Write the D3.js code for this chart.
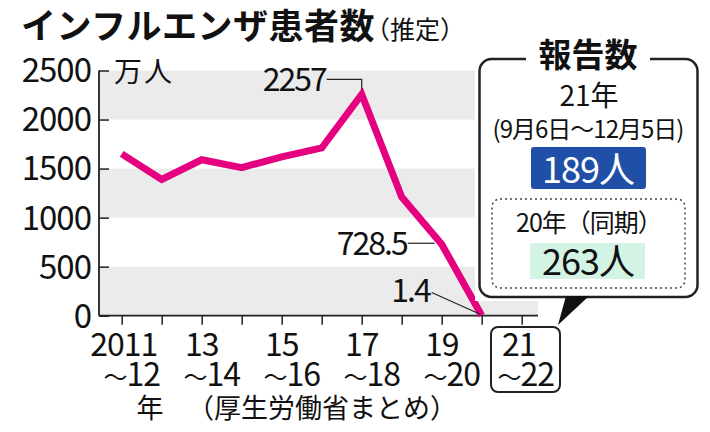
<!DOCTYPE html>
<html>
<head>
<meta charset="utf-8">
<script src="https://cdn.jsdelivr.net/npm/d3@7"></script>
<style>
  body { margin: 0; background: #fff; }
  text { font-family: "Noto Sans CJK JP", "Noto Sans", sans-serif; fill: #111; }
</style>
</head>
<body>
<div id="chart"></div>
<script>
"use strict";

// data (万人)
var seasons = ["2011-12","2012-13","2013-14","2014-15","2015-16","2016-17","2017-18","2018-19","2019-20","2020-21","2021-22"];
var patients = [1650, 1390, 1590, 1510, 1620, 1710, 2257, 1210, 728.5, 1.4];
var tickTop = ["2011","","13","","15","","17","","19","","21"];
var tickBottom = ["12","","14","","16","","18","","20","","22"];
var yTicks = [0, 500, 1000, 1500, 2000, 2500];
var callouts = [{i: 6, text: "2257"}, {i: 8, text: "728.5"}, {i: 9, text: "1.4"}];
var reportNow = 189, reportPrev = 263;

var W = 710, H = 432;
var svg = d3.select("#chart").append("svg")
    .attr("width", W).attr("height", H);

var x = d3.scalePoint().domain(seasons).range([121.7, 521.7]),
    y = d3.scaleLinear().domain([0, 2500]).range([315.7, 70.5]);
var left = 99, right = 538;

// gray bands
var bands = [[0, 500], [1000, 1500], [2000, 2500]];
svg.selectAll(".band").data(bands).enter().append("rect")
    .attr("class", "band")
    .attr("x", left).attr("width", right - left)
    .attr("y", function (d) { return y(d[1]); })
    .attr("height", function (d) { return y(d[0]) - y(d[1]); })
    .attr("fill", "#ebebeb");

// y axis
var yAxis = svg.append("g")
    .attr("transform", "translate(" + left + ",0)")
    .call(d3.axisRight(y).tickValues(yTicks).tickSize(10).tickFormat(""));
yAxis.select(".domain").remove();
yAxis.selectAll("line").attr("stroke", "#222").attr("stroke-width", 1.5);
svg.append("line").attr("x1", left).attr("x2", left)
    .attr("y1", y(2500)).attr("y2", y(0)).attr("stroke", "#222").attr("stroke-width", 1.8);

svg.selectAll(".ylab").data(yTicks).enter().append("text")
    .attr("x", 91).attr("y", function (d) { return y(d); })
    .attr("dy", "0.36em").attr("text-anchor", "end")
    .style("font-size", "33px").style("letter-spacing", "-1px")
    .text(function (d) { return d; });

svg.append("text").attr("x", 114).attr("y", 82)
    .style("font-size", "28px").style("letter-spacing", "2px").text("万人");

// x axis
var xAxis = svg.append("g")
    .attr("transform", "translate(0," + y(0) + ")")
    .call(d3.axisBottom(x).tickSize(9).tickFormat(""));
xAxis.select(".domain").remove();
xAxis.selectAll("line").attr("stroke", "#222").attr("stroke-width", 1.5);
svg.append("line").attr("x1", left).attr("x2", right)
    .attr("y1", y(0)).attr("y2", y(0)).attr("stroke", "#222").attr("stroke-width", 1.8);

var xl = svg.selectAll(".xlab").data(seasons.slice(0, 10)).enter().append("g");
xl.append("text")
    .attr("x", function (d, i) { return x(d) + (i === 0 ? 2 : 0); })
    .attr("y", 356).attr("text-anchor", "middle")
    .style("font-size", "32px").style("letter-spacing", "-1px")
    .text(function (d, i) { return tickTop[i]; });
var bot = xl.filter(function (d, i) { return tickBottom[i] !== ""; })
    .append("text")
    .attr("x", function (d) { return x(d) + 10; })
    .attr("y", 386).attr("text-anchor", "middle")
    .style("font-size", "32px").style("letter-spacing", "-1px");
bot.append("tspan").style("font-size", "24px").text("～");
bot.append("tspan").text(function (d) { return tickBottom[seasons.indexOf(d)]; });

svg.append("text").attr("x", 150).attr("y", 418).attr("text-anchor", "middle")
    .style("font-size", "27px").text("年");
svg.append("text").attr("x", 322).attr("y", 418).attr("text-anchor", "middle")
    .style("font-size", "27px").text("（厚生労働省まとめ）");

// line
var line = d3.line()
    .x(function (d, i) { return x(seasons[i]); })
    .y(function (d) { return y(d); });
svg.append("path").datum(patients)
    .attr("d", line)
    .attr("fill", "none")
    .attr("stroke", "#e5007f")
    .attr("stroke-width", 7)
    .attr("stroke-linejoin", "miter");

// callouts
function cx(c) { return x(seasons[c.i]); }
function cy(c) { return y(patients[c.i]); }
var c0 = callouts[0], c1 = callouts[1], c2 = callouts[2];
svg.append("path")
    .attr("d", "M" + (cx(c0) - 35) + "," + (cy(c0) - 15) + "H" + cx(c0) + "V" + (cy(c0) - 5))
    .attr("fill", "none").attr("stroke", "#222").attr("stroke-width", 1.2);
svg.append("text").attr("x", cx(c0) - 36).attr("y", cy(c0) - 3)
    .attr("text-anchor", "end").style("font-size", "32px").style("letter-spacing", "-2px").text(c0.text);
svg.append("line")
    .attr("x1", cx(c1) - 34).attr("x2", cx(c1) - 7)
    .attr("y1", cy(c1) - 1).attr("y2", cy(c1) - 1)
    .attr("stroke", "#222").attr("stroke-width", 1.2);
svg.append("text").attr("x", cx(c1) - 35).attr("y", cy(c1) + 11)
    .attr("text-anchor", "end").style("font-size", "32px").style("letter-spacing", "-2px").text(c1.text);
svg.append("line")
    .attr("x1", cx(c2) - 50).attr("x2", cx(c2) - 1)
    .attr("y1", cy(c2) - 23).attr("y2", cy(c2) - 1)
    .attr("stroke", "#222").attr("stroke-width", 1.2);
svg.append("text").attr("x", cx(c2) - 52).attr("y", cy(c2) - 14)
    .attr("text-anchor", "end").style("font-size", "32px").style("letter-spacing", "-2px").text(c2.text);

// title
var title = svg.append("text").attr("x", 21).attr("y", 39);
title.append("tspan").style("font-size", "35px").style("font-weight", "bold")
    .style("letter-spacing", "0.5px").text("インフルエンザ患者数");
title.append("tspan").attr("dx", -10).style("font-size", "25px").text("（推定）");

// report box
svg.append("rect").attr("x", 475).attr("y", 40).attr("width", 230).attr("height", 261).attr("fill", "#fff");
svg.append("rect").attr("x", 479.5).attr("y", 59).attr("width", 218).attr("height", 238)
    .attr("rx", 12).attr("fill", "#fff").attr("stroke", "#222").attr("stroke-width", 2.5);
svg.append("rect").attr("x", 526).attr("y", 50).attr("width", 124).attr("height", 16).attr("fill", "#fff");
svg.append("text").attr("x", 588).attr("y", 67).attr("text-anchor", "middle")
    .style("font-size", "33px").style("font-weight", "bold").text("報告数");
svg.append("text").attr("x", 589).attr("y", 106).attr("text-anchor", "middle")
    .style("font-size", "28px").text("21年");
svg.append("text").attr("x", 588).attr("y", 138).attr("text-anchor", "middle")
    .style("font-size", "24px").style("letter-spacing", "-1px").text("(9月6日～12月5日)");
svg.append("rect").attr("x", 531).attr("y", 147).attr("width", 115).attr("height", 42)
    .attr("rx", 3).attr("fill", "#1f4fa6");
svg.append("text").attr("x", 588).attr("y", 183).attr("text-anchor", "middle")
    .style("font-size", "36px").style("fill", "#fff").style("letter-spacing", "-1px").text(reportNow + "人");

svg.append("rect").attr("x", 492).attr("y", 199).attr("width", 193).attr("height", 89)
    .attr("rx", 8).attr("fill", "none").attr("stroke", "#444").attr("stroke-width", 1.5)
    .attr("stroke-dasharray", "2,3");
svg.append("text").attr("x", 589).attr("y", 232).attr("text-anchor", "middle")
    .style("font-size", "25px").style("letter-spacing", "-1px").text("20年（同期）");
svg.append("rect").attr("x", 530).attr("y", 243).attr("width", 115).attr("height", 36)
    .attr("fill", "#d3f3e4");
svg.append("text").attr("x", 588).attr("y", 275).attr("text-anchor", "middle")
    .style("font-size", "36px").style("letter-spacing", "-1px").text(reportPrev + "人");

// pointer
svg.append("path").attr("d", "M566,296L589,296L558,325Z").attr("fill", "#111");

// 21~22 label in a box
var lx = x(seasons[10]);
svg.append("rect").attr("x", 491).attr("y", 327).attr("width", 69).attr("height", 65)
    .attr("rx", 7).attr("fill", "#fff").attr("stroke", "#222").attr("stroke-width", 2);
svg.append("text").attr("x", lx - 3).attr("y", 356).attr("text-anchor", "middle")
    .style("font-size", "32px").style("letter-spacing", "-1px").text(tickTop[10]);
var last = svg.append("text").attr("x", lx + 4).attr("y", 386).attr("text-anchor", "middle")
    .style("font-size", "32px").style("letter-spacing", "-1px");
last.append("tspan").style("font-size", "24px").text("～");
last.append("tspan").text(tickBottom[10]);
</script>
</body>
</html>
